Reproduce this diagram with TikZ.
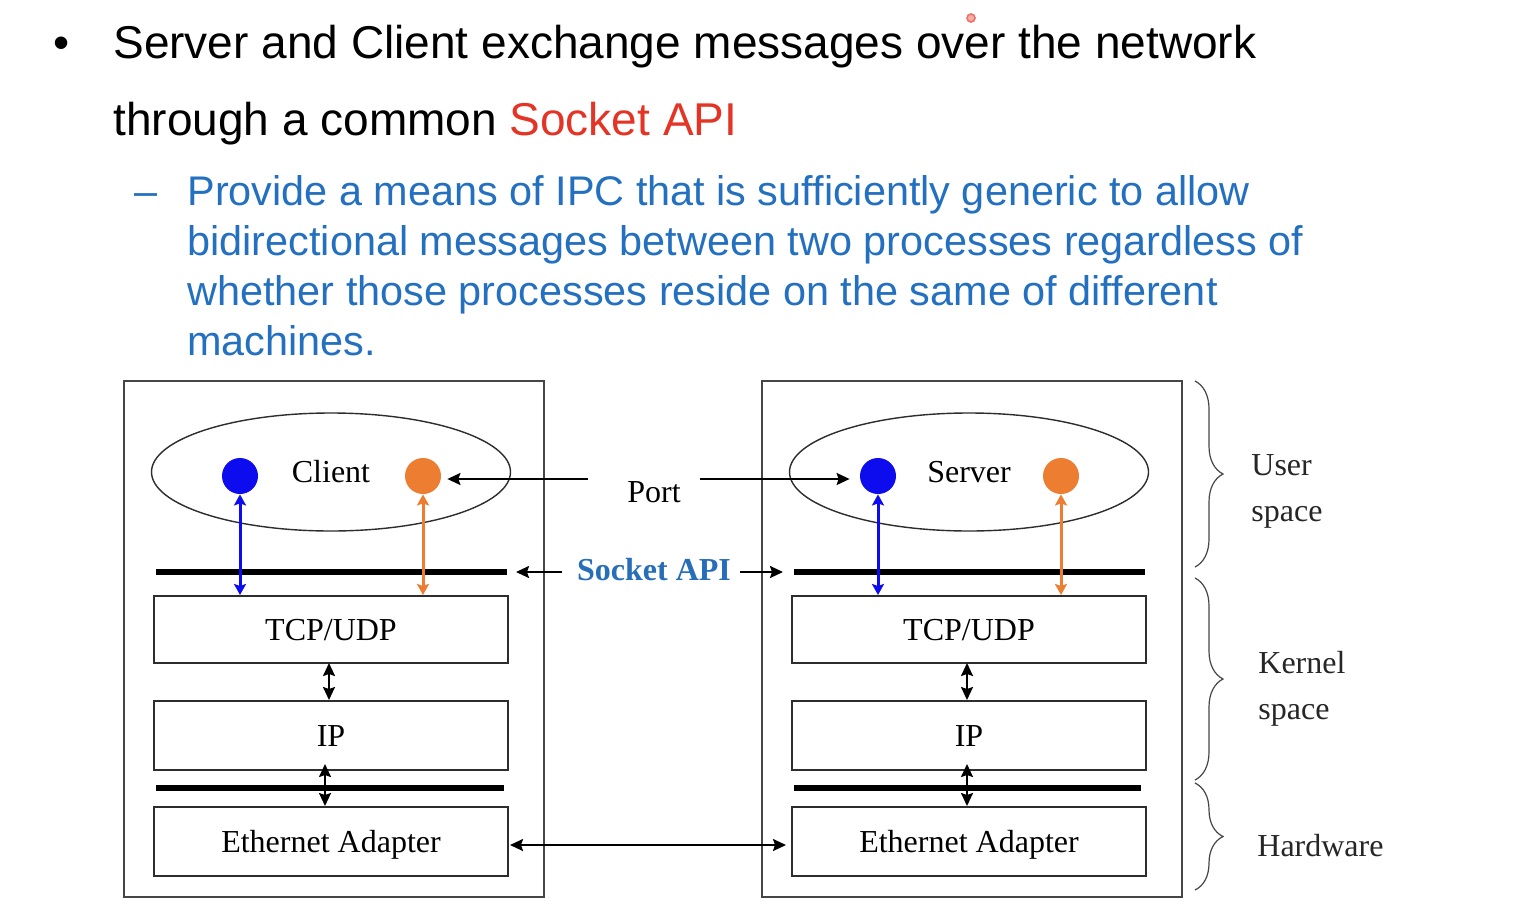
\documentclass[tikz,border=0pt]{standalone}
\usepackage{fontspec}
\setmainfont{Liberation Serif}
\newfontfamily\arialfont{Liberation Sans}
\usetikzlibrary{arrows.meta,shapes.geometric,decorations.pathreplacing}

\definecolor{bluetext}{RGB}{36,112,192}
\definecolor{redtext}{RGB}{228,52,38}
\definecolor{apiblue}{RGB}{38,110,186}
\definecolor{dotblue}{RGB}{12,12,238}
\definecolor{dotorange}{RGB}{237,125,49}
\definecolor{framegray}{RGB}{70,70,70}
\definecolor{boxgray}{RGB}{45,45,45}

\tikzset{
  headtext/.style={anchor=base west, inner sep=0pt, font=\arialfont\fontsize{23}{27}\selectfont},
  subtext/.style={anchor=base west, inner sep=0pt, text=bluetext, font=\arialfont\fontsize{20.7}{25}\selectfont},
  serif/.style={font=\fontsize{16}{19}\selectfont},
  outerbox/.style={draw=framegray, line width=1pt, minimum width=210pt, minimum height=258pt, inner sep=0pt},
  layerbox/.style={serif, draw=boxgray, line width=1pt, minimum width=177pt, inner sep=0pt, text height=10.6pt, text depth=0pt},
  proc/.style={serif, ellipse, draw=boxgray, line width=0.7pt, minimum width=179.5pt, minimum height=59pt, inner sep=0pt, text height=10.6pt, text depth=0pt},
  portdot/.style={circle, minimum size=18pt, inner sep=0pt},
  bar/.style={line width=3pt},
  twoway/.style={line width=1pt, {Stealth[length=6.5pt, width=6pt, inset=1pt]}-{Stealth[length=6.5pt, width=6pt, inset=1pt]}},
  oneway/.style={line width=1pt, -{Stealth[length=6.5pt, width=6pt, inset=1pt]}},
  colway/.style={line width=1.5pt, {Stealth[length=5.5pt, width=6pt, inset=1pt]}-{Stealth[length=5.5pt, width=6pt, inset=1pt]}},
  spacebrace/.style={draw=framegray, line width=0.6pt, decorate, decoration={brace, amplitude=14pt}},
  sidelabel/.style={serif, anchor=base west, inner sep=0pt, text=black!85},
}

\begin{document}
\begin{tikzpicture}[x=0.5pt, y=-0.5pt]
\useasboundingbox (0,0) rectangle (1514,910);
\fill[white] (0,0) rectangle (1514,910);

% heading bullet
\node[headtext] (bullet) at (53,58) {•};
\node[headtext] (line1) at (113,58) {Server and Client exchange messages over the network};
\node[headtext] (line2) at (113,135) {through a common \textcolor{redtext}{Socket API}};
\node[circle, draw=redtext!70, fill=redtext!40, line width=0.8pt, minimum size=4pt, inner sep=0pt] (pointer) at (971,18) {};

% sub item
\node[subtext] (dash) at (134,205) {–};
\node[subtext] (sub1) at (187,205) {Provide a means of IPC that is sufficiently generic to allow};
\node[subtext] (sub2) at (187,255) {bidirectional messages between two processes regardless of};
\node[subtext] (sub3) at (187,305) {whether those processes reside on the same of different};
\node[subtext] (sub4) at (187,355) {machines.};

% host frames
\node[outerbox] (chost) at (333.5,639) {};
\node[outerbox] (shost) at (971.5,639) {};

% processes
\node[proc] (cproc) at (331,472) {Client};
\node[proc] (sproc) at (969,472) {Server};
\node[portdot, fill=dotblue] (cb) at (240,476) {};
\node[portdot, fill=dotorange] (co) at (423,476) {};
\node[portdot, fill=dotblue] (sb) at (878,476) {};
\node[portdot, fill=dotorange] (so) at (1061,476) {};

% protocol layers
\node[layerbox, minimum height=33.5pt] (ctcp) at (331,629.5) {TCP/UDP};
\node[layerbox, minimum height=34.5pt] (cip) at (331,735.5) {IP};
\node[layerbox, minimum height=34.5pt] (ceth) at (331,841.5) {Ethernet Adapter};
\node[layerbox, minimum height=33.5pt] (stcp) at (969,629.5) {TCP/UDP};
\node[layerbox, minimum height=34.5pt] (sip) at (969,735.5) {IP};
\node[layerbox, minimum height=34.5pt] (seth) at (969,841.5) {Ethernet Adapter};

% API and driver boundaries
\coordinate (capiL) at (156,572);
\coordinate (capiR) at (507,572);
\coordinate (sapiL) at (794,572);
\coordinate (sapiR) at (1145,572);
\coordinate (cdrvL) at (156,788);
\coordinate (cdrvR) at (504,788);
\coordinate (sdrvL) at (794,788);
\coordinate (sdrvR) at (1141,788);
\draw[bar] (capiL) -- (capiR);
\draw[bar] (sapiL) -- (sapiR);
\draw[bar] (cdrvL) -- (cdrvR);
\draw[bar] (sdrvL) -- (sdrvR);

% socket connections
\draw[colway, draw=dotblue, fill=dotblue] (cb.south) -- (cb.south |- ctcp.north);
\draw[colway, draw=dotorange, fill=dotorange] (co.south) -- (co.south |- ctcp.north);
\draw[colway, draw=dotblue, fill=dotblue] (sb.south) -- (sb.south |- stcp.north);
\draw[colway, draw=dotorange, fill=dotorange] (so.south) -- (so.south |- stcp.north);

% layer connections
\coordinate (cmid) at (329,663);
\coordinate (smid) at (967,663);
\draw[twoway] (cmid) -- (cmid |- cip.north);
\draw[twoway] (smid) -- (smid |- sip.north);
\coordinate (clow) at (325,764);
\coordinate (slow) at (967,764);
\draw[twoway] (clow) -- (clow |- ceth.north);
\draw[twoway] (slow) -- (slow |- seth.north);

% wire between adapters
\coordinate (wire) at (508,845);
\draw[twoway, shorten <=1pt, shorten >=2.5pt] (wire) -- (wire -| seth.west);

% Port label
\node[serif, inner sep=0pt, text height=10.6pt, text depth=0pt] (port) at (654,491.5) {Port};
\coordinate (portL) at (588,479);
\coordinate (portR) at (700,479);
\draw[oneway, shorten >=3pt] (portL) -- (portL -| co.east);
\draw[oneway, shorten >=5pt] (portR) -- (portR -| sb.west);

% Socket API label
\node[serif, inner sep=0pt, text height=10.6pt, text depth=0pt, text=apiblue, font=\bfseries\fontsize{16}{19}\selectfont] (api) at (654,570) {Socket API};
\coordinate (apiL) at (562,572);
\coordinate (apiR) at (740,572);
\draw[oneway, shorten >=4.5pt] (apiL) -- (capiR);
\draw[oneway, shorten >=5.5pt] (apiR) -- (sapiL);

% address spaces
\coordinate (usrT) at (1195,381);
\coordinate (usrB) at (1195,567);
\coordinate (kerT) at (1195,578);
\coordinate (kerB) at (1195,780);
\coordinate (hwT) at (1195,783);
\coordinate (hwB) at (1195,890);
\draw[spacebrace] (usrT) -- (usrB);
\draw[spacebrace] (kerT) -- (kerB);
\draw[spacebrace] (hwT) -- (hwB);
\node[sidelabel] (user1) at (1251,475) {User};
\node[sidelabel] (user2) at (1251,521) {space};
\node[sidelabel] (kern1) at (1258,673) {Kernel};
\node[sidelabel] (kern2) at (1258,719) {space};
\node[sidelabel] (hw) at (1257,856) {Hardware};
\end{tikzpicture}
\end{document}
